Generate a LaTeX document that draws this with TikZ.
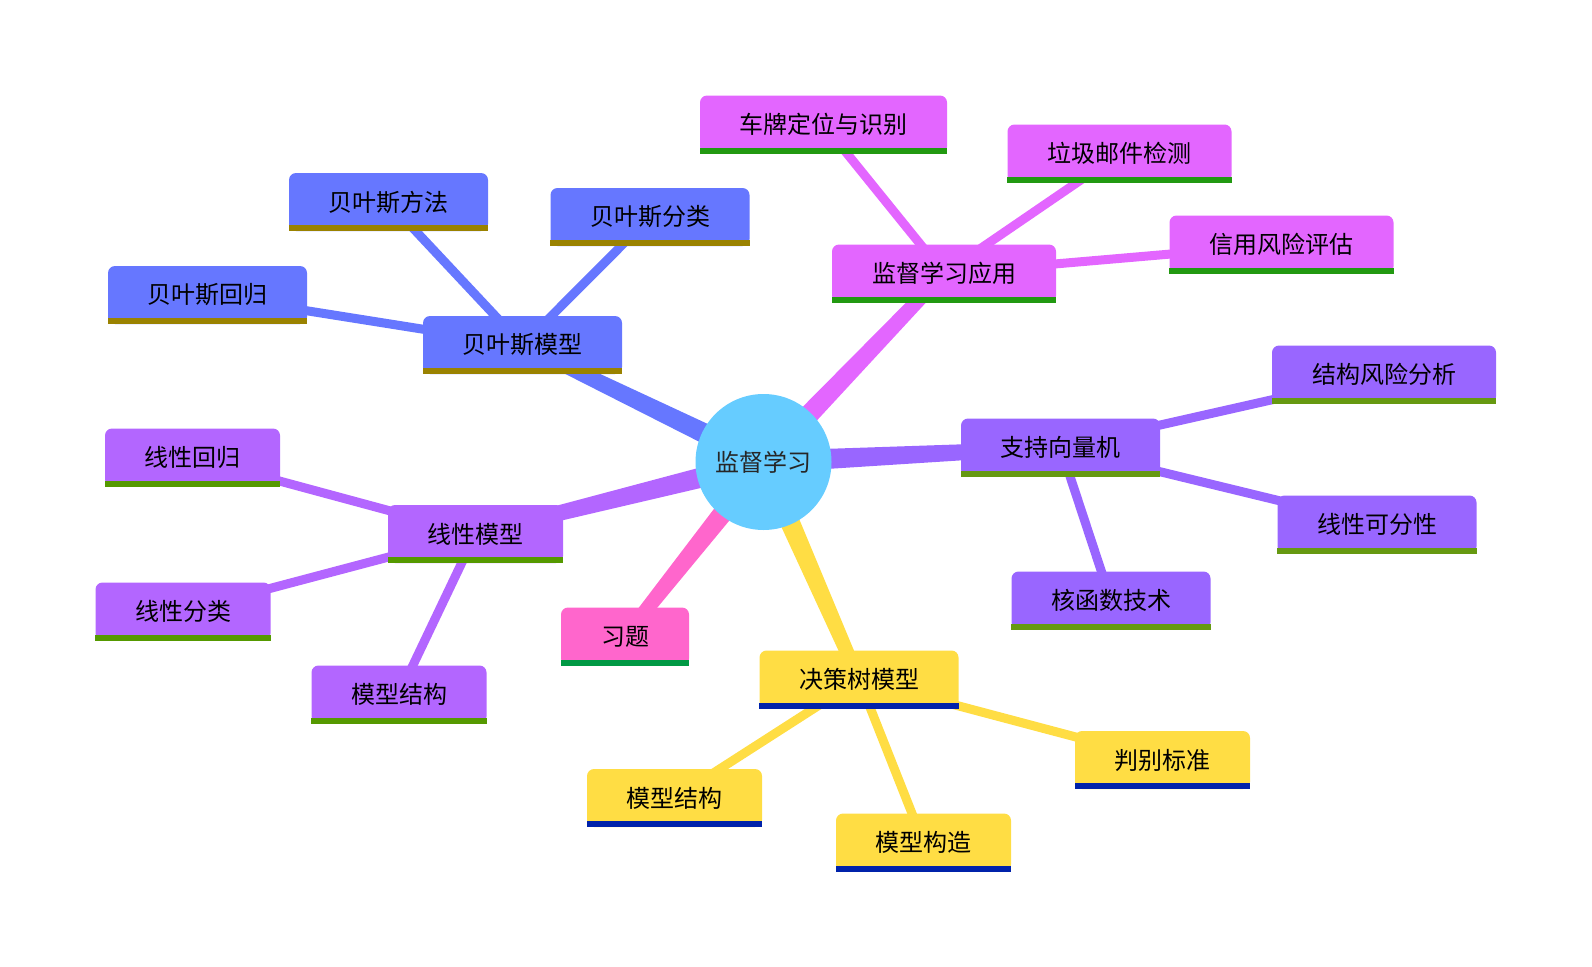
\documentclass[tikz,border=0pt]{standalone}
\usepackage{fontspec}
\newfontfamily\cjk{Noto Sans CJK SC}
\usetikzlibrary{backgrounds,calc}
\definecolor{cCen}{HTML}{66CCFF}
\definecolor{cBay}{HTML}{6677FF}
\definecolor{bBay}{HTML}{9A8200}
\definecolor{cApp}{HTML}{E366FF}
\definecolor{bApp}{HTML}{229911}
\definecolor{cSvm}{HTML}{9966FF}
\definecolor{bSvm}{HTML}{669911}
\definecolor{cLin}{HTML}{B366FF}
\definecolor{bLin}{HTML}{559900}
\definecolor{cXt}{HTML}{FF66CC}
\definecolor{bXt}{HTML}{009944}
\definecolor{cTree}{HTML}{FFDD44}
\definecolor{bTree}{HTML}{0022AA}
\tikzset{
  box/.style={rounded corners=7pt, minimum height=58pt, inner sep=0pt, font=\cjk\fontsize{24}{28}\selectfont, text=black},
  w2/.style={minimum width=128pt},
  w4/.style={minimum width=175pt},
  w5/.style={minimum width=199pt},
  w6/.style={minimum width=224pt},
  w7/.style={minimum width=247pt},
  subedge/.style={line width=9pt},
}
\begin{document}
\begin{tikzpicture}[x=1pt,y=-1pt]
\useasboundingbox (0,0) rectangle (1592,966);
% center
\node[circle, fill=cCen, minimum size=136pt, inner sep=0pt, font=\cjk\fontsize{24}{28}\selectfont, text=black!85] (c) at (763.5,462) {监督学习};
% Bayes
\node[box,w5,fill=cBay] (bm) at (522.5,345) {贝叶斯模型};
\node[box,w5,fill=cBay] (bff) at (388.5,202) {贝叶斯方法};
\node[box,w5,fill=cBay] (bfl) at (650,217) {贝叶斯分类};
\node[box,w5,fill=cBay] (bhg) at (207.5,295) {贝叶斯回归};
% Application
\node[box,w6,fill=cApp] (app) at (944,273.5) {监督学习应用};
\node[box,w7,fill=cApp] (cp) at (823.5,124.5) {车牌定位与识别};
\node[box,w6,fill=cApp] (lj) at (1119.5,153.5) {垃圾邮件检测};
\node[box,w6,fill=cApp] (xy) at (1281.5,244.5) {信用风险评估};
% SVM
\node[box,w5,fill=cSvm] (svm) at (1060.5,447.5) {支持向量机};
\node[box,w6,fill=cSvm] (jg) at (1384,374.5) {结构风险分析};
\node[box,w5,fill=cSvm] (kf) at (1377,524.5) {线性可分性};
\node[box,w5,fill=cSvm] (hh) at (1111,600.5) {核函数技术};
% Linear
\node[box,w4,fill=cLin] (lin) at (475.5,534) {线性模型};
\node[box,w4,fill=cLin] (lhg) at (192.5,457.5) {线性回归};
\node[box,w4,fill=cLin] (lfl) at (183,611.5) {线性分类};
\node[box,w4,fill=cLin] (ljg) at (399,694.5) {模型结构};
% Exercises
\node[box,w2,fill=cXt] (xt) at (625,636.5) {习题};
% Tree
\node[box,w5,fill=cTree] (tree) at (859,679.5) {决策树模型};
\node[box,w4,fill=cTree] (pb) at (1162.5,760) {判别标准};
\node[box,w4,fill=cTree] (tjg) at (674.5,798) {模型结构};
\node[box,w4,fill=cTree] (tgz) at (923.5,842.5) {模型构造};
% underline bars
\foreach \n/\b in {bm/bBay,bff/bBay,bfl/bBay,bhg/bBay,app/bApp,cp/bApp,lj/bApp,xy/bApp,svm/bSvm,jg/bSvm,kf/bSvm,hh/bSvm,lin/bLin,lhg/bLin,lfl/bLin,ljg/bLin,xt/bXt,tree/bTree,pb/bTree,tjg/bTree,tgz/bTree}
  \fill[\b] (\n.south west) rectangle ([yshift=6pt]\n.south east);
\begin{pgfonlayer}{background}
% tapered main branches
\foreach \n/\col in {bm/cBay,app/cApp,svm/cSvm,lin/cLin,xt/cXt,tree/cTree}
  \fill[\col] ($(c.center)!11pt!90:(\n.center)$) -- ($(\n.center)!6.5pt!-90:(c.center)$)
     -- ($(\n.center)!6.5pt!90:(c.center)$) -- ($(c.center)!11pt!-90:(\n.center)$) -- cycle;
\draw[subedge,cBay] (bm.center) -- (bff.center);
\draw[subedge,cBay] (bm.center) -- (bfl.center);
\draw[subedge,cBay] (bm.center) -- (bhg.center);
\draw[subedge,cApp] (app.center) -- (cp.center);
\draw[subedge,cApp] (app.center) -- (lj.center);
\draw[subedge,cApp] (app.center) -- (xy.center);
\draw[subedge,cSvm] (svm.center) -- (jg.center);
\draw[subedge,cSvm] (svm.center) -- (kf.center);
\draw[subedge,cSvm] (svm.center) -- (hh.center);
\draw[subedge,cLin] (lin.center) -- (lhg.center);
\draw[subedge,cLin] (lin.center) -- (lfl.center);
\draw[subedge,cLin] (lin.center) -- (ljg.center);
\draw[subedge,cTree] (tree.center) -- (pb.center);
\draw[subedge,cTree] (tree.center) -- (tjg.center);
\draw[subedge,cTree] (tree.center) -- (tgz.center);
\end{pgfonlayer}
\end{tikzpicture}
\end{document}
